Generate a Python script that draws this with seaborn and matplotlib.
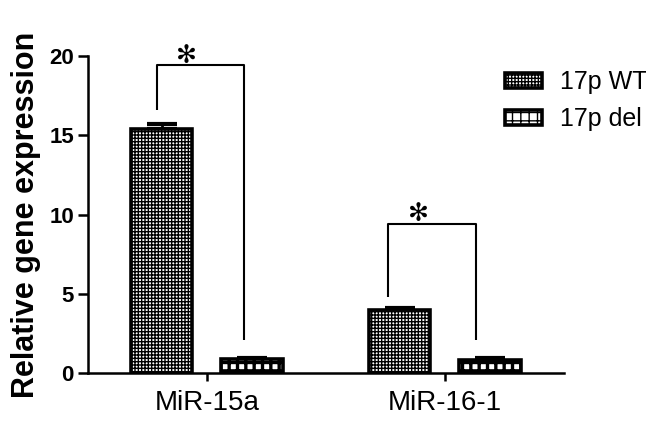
import numpy as np
import matplotlib
matplotlib.use("Agg")
import matplotlib.pyplot as plt
import seaborn as sns
import pandas as pd

# values
mirnas = ["MiR-15a", "MiR-16-1"]
groups = ["17p WT", "17p del"]
wt_mean = [15.4, 4.0]
wt_sem = [0.3, 0.08]
del_mean = [0.9, 0.8]
del_sem = [0.05, 0.15]

# significance brackets: left leg x, right leg x, top y, left leg bottom, right leg bottom, star x
brk_left = [-0.21, 0.76]
brk_right = [0.155, 1.13]
brk_top = [19.4, 9.4]
brk_lbot = [16.6, 4.8]
brk_rbot = [2.1, 2.1]
star_x = [-0.085, 0.89]

df = pd.DataFrame({
    "miRNA": mirnas * 2,
    "group": [groups[0]] * 2 + [groups[1]] * 2,
    "value": wt_mean + del_mean,
    "sem": wt_sem + del_sem,
})

sns.set_style("ticks", {"axes.edgecolor": "black", "text.color": "black",
                        "xtick.color": "black", "ytick.color": "black",
                        "axes.labelcolor": "black"})
plt.rcParams["font.family"] = ["Liberation Sans", "DejaVu Sans"]

fig = plt.figure(figsize=(6.46, 4.29), dpi=100)
ax = fig.add_axes([0.136, 0.1305, 0.737, 0.739])

sns.barplot(data=df, x="miRNA", y="value", hue="group", hue_order=groups,
            palette=["white", "white"], width=0.76, gap=0.32, errorbar=None,
            edgecolor="black", linewidth=2.6, ax=ax, legend=False, zorder=3)

hatches = ["+++++", "++"]
hatch_lw = [1.0, 2.4]
for cont, h, hl in zip(ax.containers, hatches, hatch_lw):
    for bar in cont:
        bar.set_hatch(h)
        if hasattr(bar, "set_hatch_linewidth"):
            bar.set_hatch_linewidth(hl)

# error bars (upper half only, drawn behind the bars)
for cont, g in zip(ax.containers, groups):
    sub = df[df["group"] == g]
    xs = [b.get_x() + b.get_width() / 2 for b in cont]
    ax.errorbar(xs, sub["value"], yerr=[np.zeros(len(sub)), sub["sem"]],
                fmt="none", ecolor="black", elinewidth=2, capsize=11,
                capthick=3, zorder=2)

# brackets and stars
for i in range(len(mirnas)):
    ax.plot([brk_left[i], brk_left[i], brk_right[i], brk_right[i]],
            [brk_lbot[i], brk_top[i], brk_top[i], brk_rbot[i]],
            color="black", lw=1.5, solid_capstyle="butt", zorder=4)
    ax.text(star_x[i], brk_top[i] - 0.15, "\u273b", ha="center", va="bottom",
            fontsize=18, fontweight="bold", family="DejaVu Sans")

ax.set_xlim(-0.5, 1.5)
ax.set_ylim(0, 20)
ax.set_yticks([0, 5, 10, 15, 20])
ax.set_xlabel("")
ax.set_ylabel("Relative gene expression", fontsize=22, fontweight="bold", labelpad=6)
ax.tick_params(axis="y", labelsize=16, width=1.8, length=7, direction="out", pad=3)
ax.tick_params(axis="x", labelsize=20, width=1.8, length=6, direction="out", pad=6)
for lab in ax.get_yticklabels():
    lab.set_fontweight("bold")
for side in ["left", "bottom"]:
    ax.spines[side].set_linewidth(1.8)
sns.despine(ax=ax)

handles = [cont[0] for cont in ax.containers]
leg = ax.legend(handles, groups, loc="upper left", bbox_to_anchor=(0.762, 0.865),
                bbox_transform=fig.transFigure, frameon=False, fontsize=18,
                handlelength=1.5, handleheight=0.55, labelspacing=0.5,
                handletextpad=0.7, borderpad=0)

fig.savefig("out.png", dpi=100)
